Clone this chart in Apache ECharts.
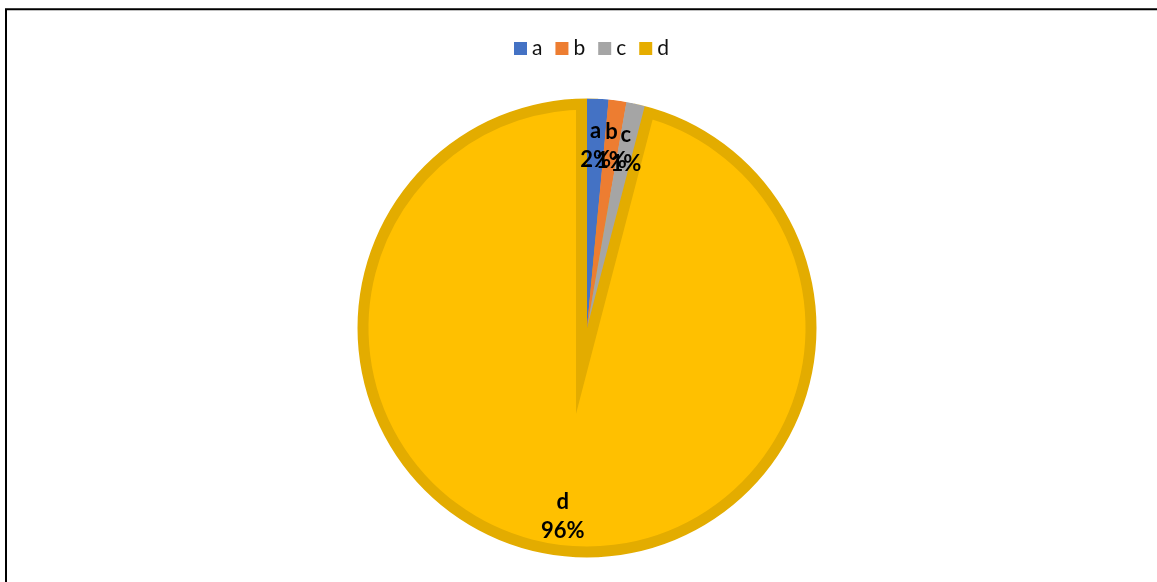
<!DOCTYPE html>
<html>
<head>
<meta charset="utf-8">
<script src="https://cdn.jsdelivr.net/npm/echarts@6/dist/echarts.min.js"></script>
<style>
  html, body { margin: 0; padding: 0; background: #fff; }
  #chart { width: 1157px; height: 582px; }
</style>
</head>
<body>
<div id="chart"></div>
<script>
// Share of each category
const categories = ['a', 'b', 'c', 'd'];
const values = [1.5, 1.25, 1.3, 95.95];

// Palette
const fills = ['#4472C4', '#ED7D31', '#A5A5A5', '#FFC000'];
const swatches = ['#4472C4', '#ED7D31', '#A5A5A5', '#E6AD00'];
const rimColor = '#E3AC00';

const CX = 587, CY = 328, R = 229.5;
const FONT = 'Lato, "Open Sans", sans-serif';

const chart = echarts.init(document.getElementById('chart'), null, { renderer: 'canvas' });

// Base layer: every slice, the large one carrying a wide rim that is later trimmed
const baseData = categories.map((name, i) => ({
  name, value: values[i],
  itemStyle: i === 3
    ? { color: fills[i], borderColor: rimColor, borderWidth: 22, borderJoin: 'miter' }
    : { color: fills[i], borderWidth: 0 }
}));

// Small slices again on top, so the rim only shows inside the large slice
const topData = categories.map((name, i) => ({
  name, value: values[i],
  itemStyle: i === 3
    ? { color: 'rgba(0,0,0,0)', borderWidth: 0 }
    : { color: fills[i], borderWidth: 0 }
}));

// Transparent rings used only to place the labels (small slices / large slice)
function labelRing(showIdx) {
  return categories.map((name, i) => ({
    name, value: values[i],
    itemStyle: { color: 'rgba(0,0,0,0)', borderWidth: 0 },
    label: { show: showIdx.indexOf(i) >= 0 }
  }));
}

const common = {
  type: 'pie',
  center: [CX, CY],
  startAngle: 90,
  clockwise: true,
  silent: true,
  animation: false,
  avoidLabelOverlap: false,
  label: { show: false },
  labelLine: { show: false },
  labelLayout: { hideOverlap: false },
  emphasis: { disabled: true }
};

const labelStyle = {
  position: 'inside',
  formatter: p => p.name + '\n' + Math.round(p.percent) + '%',
  fontFamily: FONT,
  fontSize: 22,
  fontWeight: 'bold',
  lineHeight: 29,
  color: '#000'
};

chart.setOption({
  animation: false,
  backgroundColor: '#fff',
  legend: {
    data: categories.map((name, i) => ({ name, itemStyle: { color: swatches[i], borderWidth: 0 } })),
    left: 509,
    top: 33,
    icon: 'rect',
    itemWidth: 13,
    itemHeight: 13,
    itemGap: 13,
    selectedMode: false,
    textStyle: { fontFamily: FONT, fontSize: 21, color: '#111' }
  },
  graphic: [{
    type: 'rect',
    shape: { x: 6, y: 9.3, width: 1400, height: 900 },
    style: { fill: 'none', stroke: '#000', lineWidth: 2 },
    silent: true
  }],
  series: [
    Object.assign({}, common, { name: 'base', radius: [0, R], data: baseData, z: 1 }),
    Object.assign({}, common, { name: 'top', radius: [0, R], data: topData, z: 2 }),
    Object.assign({}, common, {
      name: 'trim', radius: [R, R + 40], z: 3,
      data: [{ name: 'trim', value: 1, itemStyle: { color: '#fff', borderWidth: 0 } }]
    }),
    Object.assign({}, common, {
      name: 'labelsSmall', radius: [131, R], data: labelRing([0, 1, 2]), z: 4,
      label: labelStyle
    }),
    Object.assign({}, common, {
      name: 'labelsLarge', radius: [145, R], data: labelRing([3]), z: 4,
      label: labelStyle
    })
  ]
});
</script>
</body>
</html>
